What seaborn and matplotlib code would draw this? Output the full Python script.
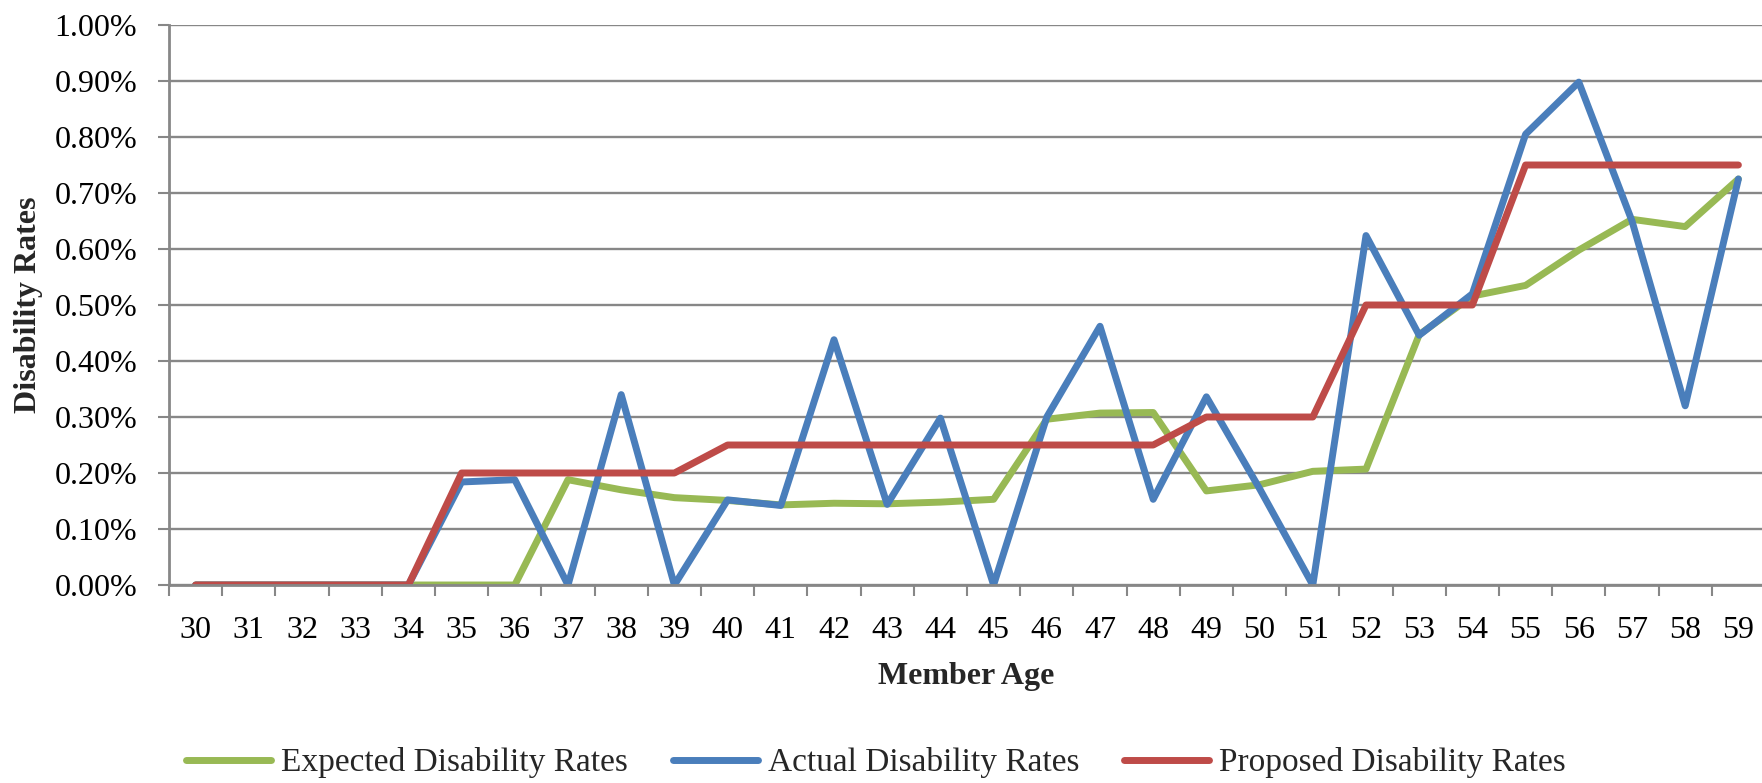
import numpy as np
import pandas as pd
import matplotlib
matplotlib.use("Agg")
import matplotlib.pyplot as plt
from matplotlib.ticker import FixedLocator, FuncFormatter
import seaborn as sns

# Member ages (x categories)
ages = list(range(30, 60))

# Disability rates in percent
expected_rates = [0, 0, 0, 0, 0, 0, 0, 0.188, 0.170, 0.156,
                  0.151, 0.143, 0.146, 0.145, 0.148, 0.153, 0.296, 0.307, 0.308, 0.168,
                  0.179, 0.203, 0.207, 0.447, 0.516, 0.535, 0.598, 0.653, 0.640, 0.725]
actual_rates = [0, 0, 0, 0, 0, 0.184, 0.188, 0, 0.340, 0,
                0.152, 0.142, 0.438, 0.144, 0.298, 0, 0.300, 0.462, 0.153, 0.336,
                0.172, 0, 0.624, 0.446, 0.520, 0.805, 0.898, 0.650, 0.320, 0.725]
proposed_rates = [0, 0, 0, 0, 0, 0.20, 0.20, 0.20, 0.20, 0.20,
                  0.25, 0.25, 0.25, 0.25, 0.25, 0.25, 0.25, 0.25, 0.25, 0.30,
                  0.30, 0.30, 0.50, 0.50, 0.50, 0.75, 0.75, 0.75, 0.75, 0.75]

series_names = ["Expected Disability Rates", "Actual Disability Rates", "Proposed Disability Rates"]
series_colors = ["#98B954", "#4A7EBB", "#BE4B48"]
y_ticks = [0.0, 0.1, 0.2, 0.3, 0.4, 0.5, 0.6, 0.7, 0.8, 0.9, 1.0]

df = pd.DataFrame({
    "age": ages * 3,
    "rate": expected_rates + actual_rates + proposed_rates,
    "series": np.repeat(series_names, len(ages)),
})

sns.set_style("white")
plt.rcParams["font.family"] = ["Liberation Serif", "DejaVu Serif"]

W, H = 1762, 783
fig = plt.figure(figsize=(W / 100, H / 100), dpi=100)
step = 53.2
left_px, top_px, bottom_px = 169, 25, 585
ax = fig.add_axes([left_px / W, 1 - bottom_px / H, 30 * step / W, (bottom_px - top_px) / H])

sns.lineplot(data=df, x="age", y="rate", hue="series", hue_order=series_names,
             palette=dict(zip(series_names, series_colors)), linewidth=5.0,
             ax=ax, legend=False, sort=False)
for ln in ax.lines:
    ln.set_solid_capstyle("round")
    ln.set_solid_joinstyle("round")

grid_col = "#878787"
ax.set_xlim(29.5, 59.5)
ax.set_ylim(0, 1.0)
ax.yaxis.set_major_locator(FixedLocator(y_ticks))
ax.yaxis.set_major_formatter(FuncFormatter(lambda v, p: f"{v:.2f}%"))
ax.xaxis.set_major_locator(FixedLocator(ages))
ax.xaxis.set_minor_locator(FixedLocator(np.arange(29.5, 60.0, 1.0)))
ax.set_xticklabels([str(a) for a in ages])

ax.yaxis.grid(True, color=grid_col, linewidth=1.7)
ax.xaxis.grid(False)
ax.set_axisbelow(True)
for side in ["top", "right"]:
    ax.spines[side].set_visible(False)
for side in ["left", "bottom"]:
    ax.spines[side].set_color(grid_col)
    ax.spines[side].set_linewidth(2.0)

ax.tick_params(axis="y", which="major", direction="out", length=8, width=1.5,
               color=grid_col, pad=15, labelsize=23, labelcolor="black", left=True)
ax.tick_params(axis="x", which="major", length=0, pad=22, labelsize=23,
               labelcolor="black", bottom=True)
ax.tick_params(axis="x", which="minor", direction="out", length=8, width=1.5,
               color=grid_col, bottom=True)

ax.set_xlabel("Member Age", fontsize=23, fontweight="bold", va="baseline")
ax.xaxis.set_label_coords(0.4995, -(684 - bottom_px) / (bottom_px - top_px))
ax.set_ylabel("Disability Rates", fontsize=23, fontweight="bold", va="center")
ax.yaxis.set_label_coords(-(left_px - 29) / (30 * step), 0.5)

fig.legend(handles=ax.lines[:3], labels=series_names, loc="center",
           bbox_to_anchor=(876 / W, 1 - 763 / H), ncol=3, frameon=False,
           fontsize=24, handlelength=2.55, handletextpad=0.3, columnspacing=1.35,
           borderaxespad=0)

fig.savefig("out.png", dpi=100, facecolor="white")
